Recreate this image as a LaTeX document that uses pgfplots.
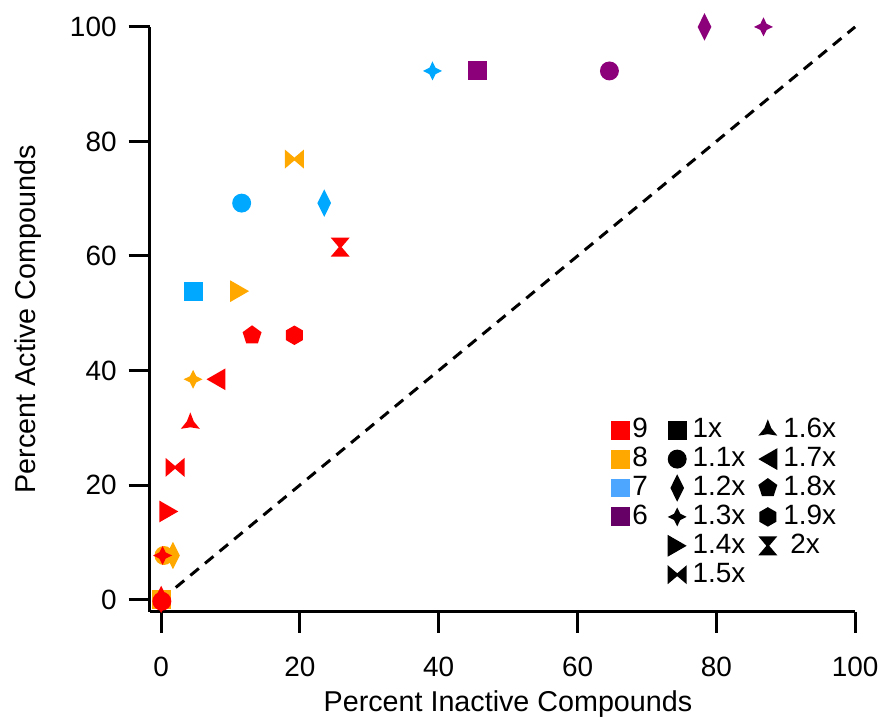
\documentclass[border=0pt]{standalone}
\usepackage{fontspec}
\setmainfont{Liberation Sans}
\usepackage{pgfplots}
\pgfplotsset{compat=1.18}

\definecolor{cred}{RGB}{255,0,0}
\definecolor{corange}{RGB}{255,168,0}
\definecolor{cblue}{RGB}{0,168,255}
\definecolor{cpurple}{RGB}{140,0,122}
\definecolor{lblue}{RGB}{77,166,255}
\definecolor{lpurple}{RGB}{102,0,102}

\newcommand{\ms}{\pgfplotmarksize}
\pgfdeclareplotmark{msq}{\pgfpathrectangle{\pgfpoint{-\ms}{-\ms}}{\pgfpoint{2\ms}{2\ms}}\pgfusepathqfill}
\pgfdeclareplotmark{mcirc}{\pgfpathcircle{\pgfpointorigin}{\ms}\pgfusepathqfill}
\pgfdeclareplotmark{mdiam}{%
  \pgfpathmoveto{\pgfpoint{0pt}{1.45\ms}}%
  \pgfpathlineto{\pgfpoint{0.72\ms}{0pt}}%
  \pgfpathlineto{\pgfpoint{0pt}{-1.45\ms}}%
  \pgfpathlineto{\pgfpoint{-0.72\ms}{0pt}}%
  \pgfpathclose\pgfusepathqfill}
\pgfdeclareplotmark{mstar}{%
  \pgfpathmoveto{\pgfpoint{0pt}{\ms}}%
  \pgfpathlineto{\pgfpoint{0.33\ms}{0.33\ms}}%
  \pgfpathlineto{\pgfpoint{\ms}{0pt}}%
  \pgfpathlineto{\pgfpoint{0.33\ms}{-0.33\ms}}%
  \pgfpathlineto{\pgfpoint{0pt}{-\ms}}%
  \pgfpathlineto{\pgfpoint{-0.33\ms}{-0.33\ms}}%
  \pgfpathlineto{\pgfpoint{-\ms}{0pt}}%
  \pgfpathlineto{\pgfpoint{-0.33\ms}{0.33\ms}}%
  \pgfpathclose\pgfusepathqfill}
\pgfdeclareplotmark{mrtri}{%
  \pgfpathmoveto{\pgfpoint{\ms}{0pt}}%
  \pgfpathlineto{\pgfpoint{-\ms}{1.15\ms}}%
  \pgfpathlineto{\pgfpoint{-\ms}{-1.15\ms}}%
  \pgfpathclose\pgfusepathqfill}
\pgfdeclareplotmark{mltri}{%
  \pgfpathmoveto{\pgfpoint{-\ms}{0pt}}%
  \pgfpathlineto{\pgfpoint{\ms}{1.15\ms}}%
  \pgfpathlineto{\pgfpoint{\ms}{-1.15\ms}}%
  \pgfpathclose\pgfusepathqfill}
\pgfdeclareplotmark{mbow}{%
  \pgfpathmoveto{\pgfpoint{-\ms}{\ms}}%
  \pgfpathlineto{\pgfpoint{0pt}{0.15\ms}}%
  \pgfpathlineto{\pgfpoint{\ms}{\ms}}%
  \pgfpathlineto{\pgfpoint{\ms}{-\ms}}%
  \pgfpathlineto{\pgfpoint{0pt}{-0.15\ms}}%
  \pgfpathlineto{\pgfpoint{-\ms}{-\ms}}%
  \pgfpathclose\pgfusepathqfill}
\pgfdeclareplotmark{mhour}{%
  \pgfpathmoveto{\pgfpoint{-\ms}{\ms}}%
  \pgfpathlineto{\pgfpoint{\ms}{\ms}}%
  \pgfpathlineto{\pgfpoint{0.15\ms}{0pt}}%
  \pgfpathlineto{\pgfpoint{\ms}{-\ms}}%
  \pgfpathlineto{\pgfpoint{-\ms}{-\ms}}%
  \pgfpathlineto{\pgfpoint{-0.15\ms}{0pt}}%
  \pgfpathclose\pgfusepathqfill}
\pgfdeclareplotmark{mtri3}{%
  \pgfpathmoveto{\pgfpointpolar{90}{1.155\ms}}%
  \pgfpathlineto{\pgfpointpolar{30}{0.42\ms}}%
  \pgfpathlineto{\pgfpointpolar{330}{1.155\ms}}%
  \pgfpathlineto{\pgfpointpolar{270}{0.42\ms}}%
  \pgfpathlineto{\pgfpointpolar{210}{1.155\ms}}%
  \pgfpathlineto{\pgfpointpolar{150}{0.42\ms}}%
  \pgfpathclose\pgfusepathqfill}
\pgfdeclareplotmark{mpent}{%
  \pgfpathmoveto{\pgfpointpolar{90}{1.05\ms}}%
  \pgfpathlineto{\pgfpointpolar{162}{1.05\ms}}%
  \pgfpathlineto{\pgfpointpolar{234}{1.05\ms}}%
  \pgfpathlineto{\pgfpointpolar{306}{1.05\ms}}%
  \pgfpathlineto{\pgfpointpolar{18}{1.05\ms}}%
  \pgfpathclose\pgfusepathqfill}
\pgfdeclareplotmark{mhex}{%
  \pgfpathmoveto{\pgfpointpolar{90}{1.03\ms}}%
  \pgfpathlineto{\pgfpointpolar{150}{1.03\ms}}%
  \pgfpathlineto{\pgfpointpolar{210}{1.03\ms}}%
  \pgfpathlineto{\pgfpointpolar{270}{1.03\ms}}%
  \pgfpathlineto{\pgfpointpolar{330}{1.03\ms}}%
  \pgfpathlineto{\pgfpointpolar{30}{1.03\ms}}%
  \pgfpathclose\pgfusepathqfill}

\pgfplotsset{
  pt/.style={only marks, forget plot, mark size=4.75pt},
  legmark/.style={only marks, mark size=4.75pt,
    legend image code/.code={\draw[##1] plot coordinates {(0pt,0pt)};}},
}
\newcommand{\lgap}{\kern2pt}
\newcommand{\rgap}{\kern3.5pt}

\begin{document}
\begin{tikzpicture}
\begin{axis}[
  scale only axis, width=354pt, height=293.5pt,
  xmin=-1.68, xmax=100, ymin=-2.16, ymax=100,
  axis lines=left, axis line style={-, line width=1.5pt},
  tick align=outside, major tick length=10.5pt,
  tick style={line width=1.5pt, black},
  xtick={0,20,...,100}, ytick={0,20,...,100},
  /pgf/number format/assume math mode=true,
  ticklabel style={font=\fontsize{14}{16}\selectfont},
  xticklabel style={yshift=-8.5pt},
  yticklabel style={xshift=-2.5pt},
  label style={font=\fontsize{14.4}{17}\selectfont},
  xlabel={Percent Inactive Compounds},
  ylabel={Percent Active Compounds},
  xlabel style={at={(axis description cs:0.508,-0.158)}, anchor=center},
  ylabel style={at={(axis description cs:-0.172,0.5)}, anchor=center},
  clip=false,
  legend columns=3,
  legend cell align=left,
  legend style={at={(0.654,0.336)}, anchor=north west, draw=none, fill=none,
    inner sep=0pt, font=\fontsize{14}{16}\selectfont,
    nodes={inner sep=1pt, text height=10pt, text depth=2.5pt},
    /tikz/every even column/.append style={column sep=5.5pt}},
]
% purple (6)
\addplot[pt, cpurple, mark=msq] coordinates {(45.6,92.31)};
\addplot[pt, cpurple, mark=mcirc] coordinates {(64.6,92.31)};
\addplot[pt, cpurple, mark=mdiam] coordinates {(78.3,100)};
\addplot[pt, cpurple, mark=mstar] coordinates {(86.8,100)};
% blue (7)
\addplot[pt, cblue, mark=msq] coordinates {(4.6,53.85)};
\addplot[pt, cblue, mark=mcirc] coordinates {(11.6,69.23)};
\addplot[pt, cblue, mark=mdiam] coordinates {(23.5,69.23)};
\addplot[pt, cblue, mark=mstar] coordinates {(39.1,92.31)};
% red square first (hidden)
\addplot[pt, cred, mark=msq] coordinates {(0,0)};
% orange (8)
\addplot[pt, corange, mark=msq] coordinates {(0,0)};
\addplot[pt, corange, mark=mcirc] coordinates {(0.4,7.69)};
\addplot[pt, corange, mark=mdiam] coordinates {(1.7,7.69)};
\addplot[pt, corange, mark=mstar] coordinates {(4.6,38.46)};
\addplot[pt, corange, mark=mrtri] coordinates {(11.3,53.85)};
\addplot[pt, corange, mark=mbow] coordinates {(19.2,76.92)};
% red (9)
\addplot[pt, cred, mark=mcirc] coordinates {(0.1,-0.3)};
\addplot[pt, cred, mark=mdiam] coordinates {(0,0)};
\addplot[pt, cred, mark=mstar] coordinates {(0.2,7.69)};
\addplot[pt, cred, mark=mrtri] coordinates {(1.1,15.38)};
\addplot[pt, cred, mark=mbow] coordinates {(2.0,23.08)};
\addplot[pt, cred, mark=mtri3] coordinates {(4.2,30.77)};
\addplot[pt, cred, mark=mltri] coordinates {(7.9,38.46)};
\addplot[pt, cred, mark=mpent] coordinates {(13.1,46.15)};
\addplot[pt, cred, mark=mhex] coordinates {(19.2,46.15)};
\addplot[pt, cred, mark=mhour] coordinates {(25.8,61.54)};
% diagonal
\addplot[black, line width=1.5pt, dash pattern=on 5.5pt off 4pt, forget plot] coordinates {(0,0) (100,100)};

% legend
\addlegendimage{legmark, mark=msq, cred}\addlegendentry{9\rgap}
\addlegendimage{legmark, mark=msq, black}\addlegendentry{\lgap 1x}
\addlegendimage{legmark, mark=mtri3, black}\addlegendentry{\lgap 1.6x}
\addlegendimage{legmark, mark=msq, corange}\addlegendentry{8\rgap}
\addlegendimage{legmark, mark=mcirc, black}\addlegendentry{\lgap 1.1x}
\addlegendimage{legmark, mark=mltri, black}\addlegendentry{\lgap 1.7x}
\addlegendimage{legmark, mark=msq, lblue}\addlegendentry{7\rgap}
\addlegendimage{legmark, mark=mdiam, black}\addlegendentry{\lgap 1.2x}
\addlegendimage{legmark, mark=mpent, black}\addlegendentry{\lgap 1.8x}
\addlegendimage{legmark, mark=msq, lpurple}\addlegendentry{6\rgap}
\addlegendimage{legmark, mark=mstar, black}\addlegendentry{\lgap 1.3x}
\addlegendimage{legmark, mark=mhex, black}\addlegendentry{\lgap 1.9x}
\addlegendimage{empty legend}\addlegendentry{}
\addlegendimage{legmark, mark=mrtri, black}\addlegendentry{\lgap 1.4x}
\addlegendimage{legmark, mark=mhour, black}\addlegendentry{\kern5.5pt 2x}
\addlegendimage{empty legend}\addlegendentry{}
\addlegendimage{legmark, mark=mbow, black}\addlegendentry{\lgap 1.5x}
\addlegendimage{empty legend}\addlegendentry{}

\path (axis description cs:-0.2119,-0.1755) rectangle (axis description cs:1.0381,1.046);
\end{axis}
\end{tikzpicture}
\end{document}
